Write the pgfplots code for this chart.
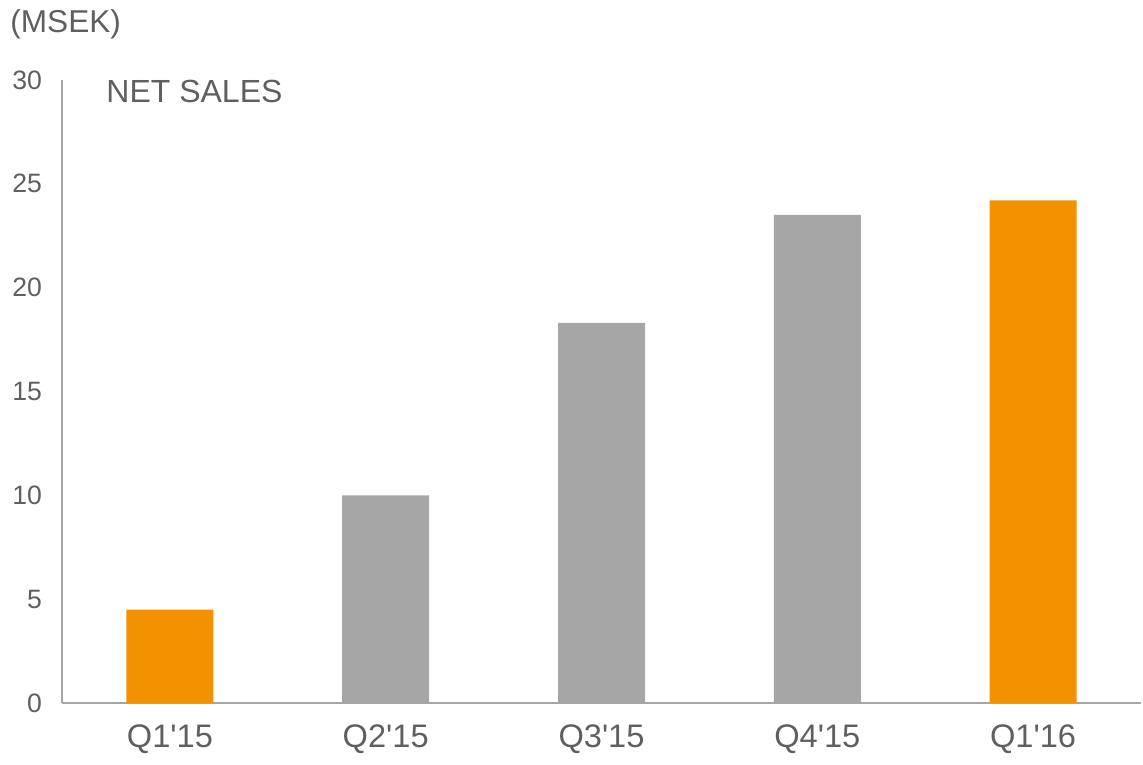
\documentclass[border=0pt]{standalone}
\usepackage{fontspec}
\setmainfont{Liberation Sans}[Ligatures=TeXOff]
\usepackage{pgfplots}
\pgfplotsset{compat=1.18}
\definecolor{barorange}{HTML}{F39200}
\definecolor{bargray}{HTML}{A6A6A6}
\definecolor{txtgray}{HTML}{5F5F5F}
\definecolor{linegray}{HTML}{A6A6A6}

\begin{document}
\begin{tikzpicture}
\useasboundingbox (0,0) rectangle (571.5pt,382pt);
\node[anchor=base west, inner sep=0pt, font=\fontsize{15.8}{18}\selectfont, text=txtgray] at (5pt,365.5pt) {(MSEK)};
\begin{axis}[
  at={(31pt,30.5pt)}, anchor=south west,
  scale only axis,
  width=539.5pt, height=311.5pt,
  xmin=-0.5, xmax=4.5, ymin=0, ymax=30,
  axis x line=bottom, axis y line=left,
  axis line style={-, draw=linegray, line width=1pt},
  xtick={0,1,2,3,4},
  xticklabels={Q1'15,Q2'15,Q3'15,Q4'15,Q1'16},
  ytick={0,5,10,15,20,25,30},
  major tick length=0pt,
  tick style={draw=none},
  /pgf/number format/assume math mode=true,
  x tick label style={font=\fontsize{16.3}{19}\selectfont, text=txtgray},
  y tick label style={font=\fontsize{13.3}{15}\selectfont, text=txtgray},
  xticklabel shift=7.5pt,
  yticklabel shift=6.5pt,
  ybar, bar width=43.5pt,
  clip=false,
]
\addplot[fill=barorange, draw=none, bar shift=0pt] coordinates {(0,4.5) (4,24.2)};
\addplot[fill=bargray, draw=none, bar shift=0pt] coordinates {(1,10.0) (2,18.3) (3,23.5)};
\node[anchor=base west, inner sep=0pt, font=\fontsize{16}{19}\selectfont, text=txtgray] at (axis cs:-0.296,28.9) {NET SALES};
\end{axis}
\end{tikzpicture}
\end{document}
